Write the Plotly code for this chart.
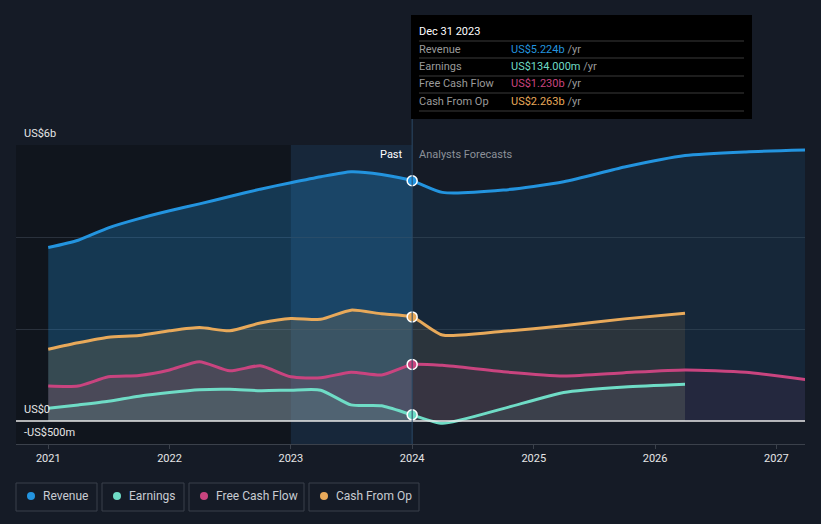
import plotly.graph_objects as go

# ---------------- data ----------------
past_dates = ["2021-01-01", "2021-04-01", "2021-07-01", "2021-10-01",
              "2022-01-01", "2022-04-01", "2022-07-01", "2022-10-01",
              "2023-01-01", "2023-04-01", "2023-07-01", "2023-10-01",
              "2024-01-01"]
fc_dates_long = ["2024-01-01", "2024-04-01", "2024-10-01", "2025-04-01",
                 "2025-10-01", "2026-04-01", "2026-10-01", "2027-04-01"]
fc_dates_short = fc_dates_long[:6]

revenue_past = [3.77, 3.93, 4.20, 4.40, 4.57, 4.72, 4.88, 5.04, 5.18, 5.31, 5.42, 5.36, 5.224]
revenue_fc = [5.224, 4.97, 5.02, 5.20, 5.52, 5.77, 5.85, 5.89]

cfo_past = [1.56, 1.70, 1.82, 1.86, 1.96, 2.03, 1.96, 2.13, 2.23, 2.21, 2.41, 2.33, 2.263]
cfo_fc = [2.263, 1.87, 1.95, 2.07, 2.22, 2.34]

fcf_past = [0.76, 0.76, 0.96, 0.99, 1.11, 1.29, 1.09, 1.20, 0.96, 0.94, 1.06, 1.00, 1.230]
fcf_fc = [1.230, 1.21, 1.07, 0.98, 1.05, 1.11, 1.06, 0.90]

earn_past = [0.275, 0.35, 0.43, 0.54, 0.62, 0.68, 0.69, 0.66, 0.67, 0.67, 0.35, 0.33, 0.134]
earn_fc = [0.134, -0.05, 0.27, 0.62, 0.74, 0.80]

series_names = ["Revenue", "Earnings", "Free Cash Flow", "Cash From Op"]
tooltip_values = ["US$5.224b", "US$134.000m", "US$1.230b", "US$2.263b"]
tooltip_title = "Dec 31 2023"
y_tick_labels = [(6, "US$6b"), (0, "US$0"), (-0.5, "-US$500m")]

# ---------------- style ----------------
BG = "#151b26"
C_REV = "#2394df"
C_EARN = "#6fdcc6"
C_FCF = "#c9447f"
C_CFO = "#e8a95a"
colors = [C_REV, C_EARN, C_FCF, C_CFO]


def rgba(hexc, a):
    h = hexc.lstrip("#")
    r, g, b = int(h[0:2], 16), int(h[2:4], 16), int(h[4:6], 16)
    return f"rgba({r},{g},{b},{a})"


fig = go.Figure()
SPL = dict(shape="spline", smoothing=0.6)

# fills (past stronger, forecast lighter), bottom to top
fill_specs = [
    (past_dates, revenue_past, C_REV, 0.28),
    (fc_dates_long, revenue_fc, C_REV, 0.10),
    (past_dates, cfo_past, C_CFO, 0.16),
    (fc_dates_short, cfo_fc, C_CFO, 0.10),
    (past_dates, fcf_past, C_FCF, 0.14),
    (fc_dates_long, fcf_fc, C_FCF, 0.08),
    (past_dates, earn_past, C_EARN, 0.12),
    (fc_dates_short, earn_fc, C_EARN, 0.08),
]
for xs, ys, c, a in fill_specs:
    fig.add_trace(go.Scatter(x=xs, y=ys, mode="lines", line=dict(width=0, **SPL),
                             fill="tozeroy", fillcolor=rgba(c, a),
                             hoverinfo="skip", showlegend=False))

# lines
line_specs = [
    (past_dates + fc_dates_long[1:], revenue_past + revenue_fc[1:], C_REV),
    (past_dates + fc_dates_short[1:], cfo_past + cfo_fc[1:], C_CFO),
    (past_dates + fc_dates_long[1:], fcf_past + fcf_fc[1:], C_FCF),
    (past_dates + fc_dates_short[1:], earn_past + earn_fc[1:], C_EARN),
]
for xs, ys, c in line_specs:
    fig.add_trace(go.Scatter(x=xs, y=ys, mode="lines", line=dict(color=c, width=3, **SPL),
                             hoverinfo="skip", showlegend=False))

# markers at the hovered date
for ys, c in [(revenue_past, C_REV), (cfo_past, C_CFO), (fcf_past, C_FCF), (earn_past, C_EARN)]:
    fig.add_trace(go.Scatter(x=[past_dates[-1]], y=[ys[-1]], mode="markers",
                             marker=dict(color=c, size=10, line=dict(color="white", width=1.5)),
                             hoverinfo="skip", showlegend=False))

W, H = 821, 524
ML, MR, MT, MB = 16, 16, 145, 80
PW, PH = W - ML - MR, H - MT - MB


def px(xp):
    return (xp - ML) / PW


def py(yp):
    return (H - MB - yp) / PH


shapes = []
# dark past region and highlighted last year band
shapes.append(dict(type="rect", xref="x", yref="paper", x0="2020-09-26", x1="2023-01-01",
                   y0=0, y1=1, fillcolor="rgba(0,0,0,0.22)", line=dict(width=0), layer="below"))
shapes.append(dict(type="rect", xref="x", yref="paper", x0="2023-01-01", x1="2024-01-01",
                   y0=0, y1=1, fillcolor="rgba(35,120,190,0.13)", line=dict(width=0), layer="below"))
# zero line
shapes.append(dict(type="line", xref="paper", yref="y", x0=0, x1=1, y0=0, y1=0,
                   line=dict(color="#e8e8e8", width=1.5)))
# hover vertical line
shapes.append(dict(type="line", xref="x", yref="paper", x0="2024-01-01", x1="2024-01-01",
                   y0=0, y1=1.43, line=dict(color="#2b4a66", width=1)))

annotations = []
for v, t in y_tick_labels:
    annotations.append(dict(x=px(22), xref="paper", y=v, yref="y", text=t, showarrow=False,
                            xanchor="left", yanchor="bottom", yshift=3,
                            font=dict(color="#e6e6e6", size=11, family="Roboto")))

annotations.append(dict(x="2024-01-01", xref="x", y=1.0, yref="paper", text="Past",
                        showarrow=False, xanchor="right", yanchor="top", xshift=-7, yshift=-1,
                        font=dict(color="#ffffff", size=11, family="Roboto")))
annotations.append(dict(x="2024-01-01", xref="x", y=1.0, yref="paper", text="Analysts Forecasts",
                        showarrow=False, xanchor="left", yanchor="top", xshift=5, yshift=-1,
                        font=dict(color="#8c9199", size=11, family="Roboto")))

# tooltip box
shapes.append(dict(type="rect", xref="paper", yref="paper", x0=px(411), x1=px(752),
                   y0=py(119), y1=py(15), fillcolor="#000000", line=dict(width=0)))
for yl in [41, 58, 76, 93, 111]:
    shapes.append(dict(type="line", xref="paper", yref="paper", x0=px(419), x1=px(744),
                       y0=py(yl), y1=py(yl), line=dict(color="#3a3a3a", width=1)))
annotations.append(dict(x=px(417), xref="paper", y=py(31), yref="paper", text=tooltip_title,
                        showarrow=False, xanchor="left", yanchor="middle",
                        font=dict(color="#ffffff", size=11, family="Roboto")))
for i, (name, val, c) in enumerate(zip(series_names, tooltip_values, colors)):
    yrow = py(49 + i * 17.5)
    annotations.append(dict(x=px(417), xref="paper", y=yrow, yref="paper", text=name,
                            showarrow=False, xanchor="left", yanchor="middle",
                            font=dict(color="#9a9a9a", size=11, family="Roboto")))
    annotations.append(dict(x=px(509), xref="paper", y=yrow, yref="paper",
                            text=f"<span style='color:{c}'>{val}</span> /yr",
                            showarrow=False, xanchor="left", yanchor="middle",
                            font=dict(color="#9a9a9a", size=11, family="Roboto")))

# legend boxes
leg_boxes = [(16, 97), (102, 184), (189, 304), (309, 419)]
for (x0, x1), name, c in zip(leg_boxes, series_names, colors):
    shapes.append(dict(type="rect", xref="paper", yref="paper", x0=px(x0), x1=px(x1),
                       y0=py(511), y1=py(483), fillcolor="rgba(0,0,0,0)",
                       line=dict(color="#3b414b", width=1)))
    shapes.append(dict(type="circle", xref="paper", yref="paper", x0=px(x0 + 11), x1=px(x0 + 19),
                       y0=py(500), y1=py(492), fillcolor=c, line=dict(width=0)))
    annotations.append(dict(x=px(x0 + 25), xref="paper", y=py(496), yref="paper", text=name,
                            showarrow=False, xanchor="left", yanchor="middle",
                            font=dict(color="#c8ccd2", size=12, family="Roboto")))

fig.update_layout(
    width=W, height=H,
    margin=dict(l=ML, r=MR, t=MT, b=MB),
    paper_bgcolor=BG, plot_bgcolor=BG,
    showlegend=False,
    shapes=shapes, annotations=annotations,
    xaxis=dict(type="date", range=["2020-09-26", "2027-03-28"], tickformat="%Y",
               dtick="M12", tick0="2021-01-01", showgrid=False, zeroline=False,
               showline=True, linecolor="#3b414b", linewidth=1,
               ticks="outside", ticklen=4, tickcolor="#3b414b",
               tickfont=dict(color="#e6e6e6", size=11, family="Roboto")),
    yaxis=dict(range=[-0.5, 6], tickvals=[2, 4, 6], showticklabels=False,
               showgrid=True, gridcolor="#2a313c", gridwidth=1, zeroline=False),
)

fig.write_html("out.html", config={"displayModeBar": False},
               post_script="document.body.style.margin='0';"
                           "document.body.style.background='#151b26';"
                           "document.body.style.overflow='hidden';")
